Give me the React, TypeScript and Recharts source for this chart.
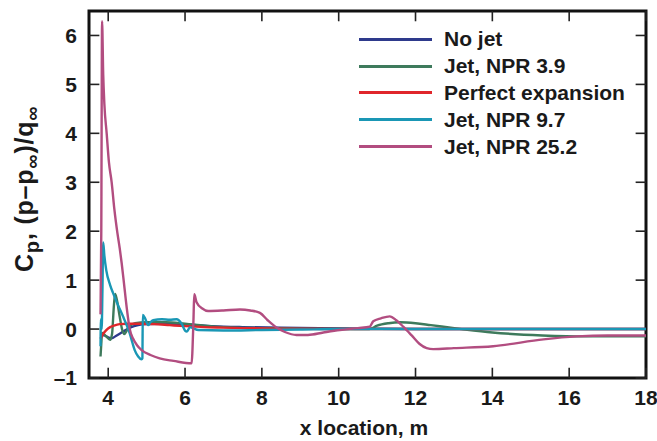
import { LineChart, Line, XAxis, YAxis, ReferenceArea, ReferenceLine, Legend } from 'recharts'

type Pt = { x: number; y: number }

const xTicks = [4, 6, 8, 10, 12, 14, 16, 18]
const yTicks = [-1, 0, 1, 2, 3, 4, 5, 6]
const X_DOMAIN: [number, number] = [3.5, 18]
const Y_DOMAIN: [number, number] = [-1, 6.5]

// [x location (m), Cp]
const noJet: [number, number][] = [
  [3.8, -0.12], [3.9, -0.13], [4.0, -0.17], [4.09, -0.19], [4.2, -0.14], [4.35, -0.07],
  [4.48, -0.01], [4.6, 0.04], [4.78, 0.08], [5.0, 0.1], [5.5, 0.11], [5.9, 0.1],
  [6.3, 0.08], [6.7, 0.06], [7.5, 0.04], [8.5, 0.03], [9.5, 0.02], [10.5, 0.01], [12, 0], [18, 0],
]

const npr39: [number, number][] = [
  [3.8, -0.56], [3.82, -0.3], [3.84, -0.08], [3.88, -0.1], [3.95, -0.15], [4.05, -0.22],
  [4.1, -0.1], [4.15, 0.5], [4.18, 0.72], [4.22, 0.62], [4.3, 0.25], [4.36, 0.0],
  [4.42, -0.1], [4.47, -0.05], [4.55, 0.06], [4.7, 0.12], [5.0, 0.14], [5.5, 0.14],
  [6.0, 0.11], [6.5, 0.07], [7.0, 0.04], [8, 0.02], [9, 0.01], [10.8, 0], [11.0, 0.07],
  [11.3, 0.12], [11.6, 0.14], [12.0, 0.12], [12.4, 0.08], [13.2, 0.0], [14.0, -0.07],
  [15.3, -0.13], [16.5, -0.15], [18, -0.15],
]

const perfect: [number, number][] = [
  [3.8, -0.2], [3.85, -0.12], [3.95, -0.02], [4.05, 0.04], [4.15, 0.07], [4.3, 0.1],
  [4.5, 0.11], [4.8, 0.11], [5.2, 0.1], [5.6, 0.08], [6.0, 0.06], [6.5, 0.04],
  [7.0, 0.03], [7.5, 0.02], [8.5, 0.01], [10, 0], [18, 0],
]

const npr97: [number, number][] = [
  [3.8, -0.35], [3.81, 0.2], [3.83, 0.0], [3.85, 0.8], [3.87, 1.77], [3.9, 1.5],
  [3.95, 1.2], [4.05, 0.9], [4.13, 0.73], [4.25, 0.5], [4.39, 0.25], [4.48, 0.08],
  [4.56, -0.09], [4.63, -0.28], [4.69, -0.43], [4.78, -0.56], [4.87, -0.62], [4.89, -0.6],
  [4.9, 0.29], [4.96, 0.22], [5.04, 0.08], [5.1, 0.14], [5.17, 0.18], [5.4, 0.2],
  [5.6, 0.19], [5.78, 0.2], [5.91, 0.11], [6.0, -0.03], [6.05, -0.05], [6.13, 0.04],
  [6.2, 0.02], [6.35, -0.02], [7, -0.03], [8, -0.02], [9, -0.01], [10, 0], [18, 0],
]

const npr252: [number, number][] = [
  [3.8, 0.3], [3.82, 2.0], [3.84, 6.29], [3.87, 5.2], [3.9, 4.6], [3.96, 4.0],
  [4.02, 3.4], [4.09, 3.0], [4.16, 2.45], [4.24, 1.96], [4.3, 1.65], [4.35, 1.35],
  [4.41, 0.94], [4.48, 0.45], [4.56, 0.0], [4.65, -0.2], [4.75, -0.33], [4.87, -0.43],
  [5.1, -0.53], [5.34, -0.6], [5.7, -0.65], [6.17, -0.7], [6.22, 0.2], [6.24, 0.71],
  [6.3, 0.55], [6.45, 0.42], [6.6, 0.37], [7.0, 0.38], [7.43, 0.4], [7.7, 0.38],
  [7.95, 0.33], [8.15, 0.18], [8.38, 0.03], [8.6, -0.06], [8.9, -0.12], [9.2, -0.12],
  [9.6, -0.07], [10.03, -0.02], [10.5, 0.02], [10.81, 0.05], [10.9, 0.16], [11.1, 0.22],
  [11.33, 0.26], [11.5, 0.18], [11.68, 0.05], [11.9, -0.13], [12.1, -0.3], [12.29, -0.39],
  [12.46, -0.41], [13.0, -0.39], [14.02, -0.35], [15.33, -0.21], [16.2, -0.15],
  [17, -0.13], [18, -0.13],
]

const series = [
  { name: 'No jet', color: '#2e3a8c', pts: noJet },
  { name: 'Jet, NPR 3.9', color: '#3e7a5c', pts: npr39 },
  { name: 'Perfect expansion', color: '#e0262b', pts: perfect },
  { name: 'Jet, NPR 9.7', color: '#1a97b5', pts: npr97 },
  { name: 'Jet, NPR 25.2', color: '#b24d80', pts: npr252 },
]

const toPts = (a: [number, number][]): Pt[] => a.map(([x, y]) => ({ x, y }))

const FONT = '"Liberation Sans", Arial, Helvetica, sans-serif'
const INK = '#1a1a1a'
// inward tick length, in axis units (about 10px each way)
const X_TICK = 0.21
const Y_TICK = 0.27

const fmt = (v: number) => (v < 0 ? '–' + Math.abs(v) : String(v))
const tickText = { fontSize: 21, fontWeight: 'bold', fill: INK, fontFamily: FONT }

function LegendBox() {
  return (
    <div style={{ fontFamily: FONT, fontWeight: 'bold', fontSize: 21, color: INK }}>
      {series.map((s) => (
        <div key={s.name} style={{ display: 'flex', alignItems: 'center', height: 26.8 }}>
          <div style={{ width: 73, height: 3, background: s.color, marginRight: 12 }} />
          <span style={{ whiteSpace: 'nowrap' }}>{s.name}</span>
        </div>
      ))}
    </div>
  )
}

// rotated title, starting at the bottom and reading upwards
function YTitle() {
  return (
    <text
      x={33}
      y={272}
      transform="rotate(-90, 33, 272)"
      textAnchor="start"
      fontFamily={FONT}
      fontWeight="bold"
      fontSize={25}
      letterSpacing={0.8}
      fill={INK}
    >
      C<tspan dy={6} fontSize={20}>p</tspan>
      <tspan dy={-6}>, (p–p</tspan>
      <tspan dy={6} fontSize={20}>∞</tspan>
      <tspan dy={-6}>)/q</tspan>
      <tspan dy={6} fontSize={20}>∞</tspan>
    </text>
  )
}

function XTitle() {
  return (
    <text x={364} y={435} textAnchor="middle" fontFamily={FONT} fontWeight="bold" fontSize={21} fill={INK}>
      x location, m
    </text>
  )
}

const tickStroke = { stroke: '#222', strokeWidth: 1.6, ifOverflow: 'visible' as const }

export default function App() {
  return (
    <div style={{ position: 'absolute', left: 0, top: 0, background: '#fff' }}>
      <LineChart width={657} height={441} margin={{ top: 11, right: 11, left: 0, bottom: 0 }}>
        <XAxis
          dataKey="x"
          type="number"
          domain={X_DOMAIN}
          ticks={xTicks}
          height={63}
          axisLine={false}
          tickLine={false}
          tickSize={0}
          tickMargin={12}
          tick={tickText}
          label={{ content: () => <XTitle /> }}
        />
        <YAxis
          type="number"
          domain={Y_DOMAIN}
          ticks={yTicks}
          width={89}
          axisLine={false}
          tickLine={false}
          tickSize={0}
          tickMargin={12}
          tick={tickText}
          tickFormatter={fmt}
          label={{ content: () => <YTitle /> }}
        />
        <ReferenceArea x1={X_DOMAIN[0]} x2={X_DOMAIN[1]} y1={Y_DOMAIN[0]} y2={Y_DOMAIN[1]} fill="none" stroke="#111" strokeWidth={3} />
        {xTicks.map((v) => (
          <ReferenceLine key={'b' + v} segment={[{ x: v, y: Y_DOMAIN[0] }, { x: v, y: Y_DOMAIN[0] + X_TICK }]} {...tickStroke} />
        ))}
        {xTicks.map((v) => (
          <ReferenceLine key={'t' + v} segment={[{ x: v, y: Y_DOMAIN[1] }, { x: v, y: Y_DOMAIN[1] - X_TICK }]} {...tickStroke} />
        ))}
        {yTicks.map((v) => (
          <ReferenceLine key={'l' + v} segment={[{ x: X_DOMAIN[0], y: v }, { x: X_DOMAIN[0] + Y_TICK, y: v }]} {...tickStroke} />
        ))}
        {yTicks.map((v) => (
          <ReferenceLine key={'r' + v} segment={[{ x: X_DOMAIN[1], y: v }, { x: X_DOMAIN[1] - Y_TICK, y: v }]} {...tickStroke} />
        ))}
        {series.map((s) => (
          <Line
            key={s.name}
            data={toPts(s.pts)}
            dataKey="y"
            name={s.name}
            type="monotone"
            stroke={s.color}
            strokeWidth={2.4}
            dot={false}
            isAnimationActive={false}
          />
        ))}
        <Legend
          layout="vertical"
          align="center"
          verticalAlign="middle"
          content={<LegendBox />}
          wrapperStyle={{ left: 359, top: 26, width: 'auto', height: 'auto' }}
        />
      </LineChart>
    </div>
  )
}
